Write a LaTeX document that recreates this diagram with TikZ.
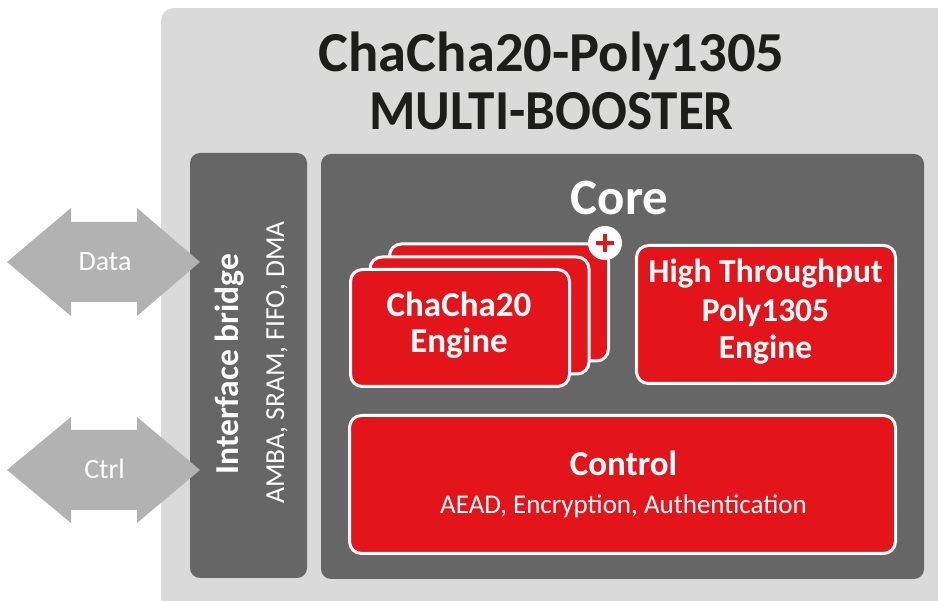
\documentclass[tikz,border=0pt]{standalone}
\usepackage{fontspec}
\usepackage{graphicx}
\setmainfont{Carlito}
\definecolor{outergrey}{HTML}{DADADA}
\definecolor{darkgrey}{HTML}{666666}
\definecolor{arrowgrey}{HTML}{B2B2B2}
\definecolor{redbox}{HTML}{E3141A}
\definecolor{titleblack}{HTML}{1D1D1B}
\newcommand\pxfont[1]{\fontsize{#1}{#1}\selectfont}
\begin{document}
\begin{tikzpicture}[x=1pt,y=-1pt,
  outerbox/.style={fill=outergrey, rounded corners=12pt, inner sep=0pt, anchor=north west},
  darkpanel/.style={fill=darkgrey, rounded corners=10pt, inner sep=0pt},
  redcard/.style={fill=redbox, draw=white, line width=3pt, rounded corners=12pt, inner sep=0pt, minimum width=219pt, minimum height=117pt},
  redbig/.style={fill=redbox, draw=white, line width=3pt, rounded corners=12pt, inner sep=0pt},
  lbl/.style={inner sep=0pt, anchor=base, text=white},
  arrowshape/.style={fill=arrowgrey},
]
\clip (0,0) rectangle (938,601);
\useasboundingbox (0,0) rectangle (938,601);

% outer panel (cropped at right and bottom)
\node[outerbox, minimum width=800pt, minimum height=620pt] (outer) at (161,8) {};

% title
\node[lbl, text=titleblack, font=\pxfont{56.5}\bfseries] (title1) at (551.5,72) {ChaCha20-Poly1305};
\node[lbl, text=titleblack, font=\pxfont{56.5}\bfseries] (title2) at (551.5,130) {\scalebox{0.94}[1]{MULTI-BOOSTER}};

% dark panels
\node[darkpanel, minimum width=117pt, minimum height=425pt] (bridge) at (248.5,365.5) {};
\node[darkpanel, minimum width=603pt, minimum height=425pt] (core) at (622.5,366.5) {};

% bridge labels
\node[lbl, rotate=90, font=\pxfont{33.5}\bfseries] (bridgetitle) at (238.5,364) {Interface bridge};
\node[lbl, rotate=90, font=\pxfont{27.5}] (bridgesub) at (284,362.5) {AMBA, SRAM, FIFO, DMA};

% core label
\node[lbl, font=\pxfont{51}\bfseries] (corelabel) at (619.5,215) {Core};

% ChaCha20 engine stack
\node[redcard] (cardback) at (499,302.5) {};
\node[redcard] (cardmid) at (479.5,315.5) {};
\node[redcard] (cardfront) at (460,328) {};
\node[circle, fill=white, minimum size=34pt, inner sep=0pt] (plus) at (605,243) {};
\draw[redbox, line width=4pt] ([xshift=-9pt]plus.center) -- ([xshift=9pt]plus.center);
\draw[redbox, line width=4pt] ([yshift=-9pt]plus.center) -- ([yshift=9pt]plus.center);
\node[lbl, font=\pxfont{35}\bfseries] (chacha1) at (459,317) {ChaCha20};
\node[lbl, font=\pxfont{35}\bfseries] (chacha2) at (459,353) {Engine};

% Poly1305 engine
\node[redbig, minimum width=259pt, minimum height=138pt] (poly) at (766,314.5) {};
\node[lbl, font=\pxfont{33.5}\bfseries] (poly1) at (765.5,283) {High Throughput};
\node[lbl, font=\pxfont{33.5}\bfseries] (poly2) at (765.5,321.5) {Poly1305};
\node[lbl, font=\pxfont{33.5}\bfseries] (poly3) at (765.5,359) {Engine};

% Control
\node[redbig, minimum width=546pt, minimum height=138pt] (control) at (622.5,484.5) {};
\node[lbl, font=\pxfont{35}\bfseries] (controltitle) at (623.5,476) {Control};
\node[lbl, font=\pxfont{27}] (controlsub) at (623.5,514) {AEAD, Encryption, Authentication};

% double arrows
\fill[arrowshape] (7,262) -- (71,208) -- (71,222) -- (137,222) -- (137,208) -- (200,262)
  -- (137,316) -- (137,302) -- (71,302) -- (71,316) -- cycle;
\node[lbl, font=\pxfont{28}] (datalabel) at (105,271) {Data};
\fill[arrowshape] (7,470) -- (71,417) -- (71,430) -- (137,430) -- (137,417) -- (200,470)
  -- (137,523) -- (137,510) -- (71,510) -- (71,523) -- cycle;
\node[lbl, font=\pxfont{28}] (ctrllabel) at (104.5,479) {Ctrl};
\end{tikzpicture}
\end{document}
